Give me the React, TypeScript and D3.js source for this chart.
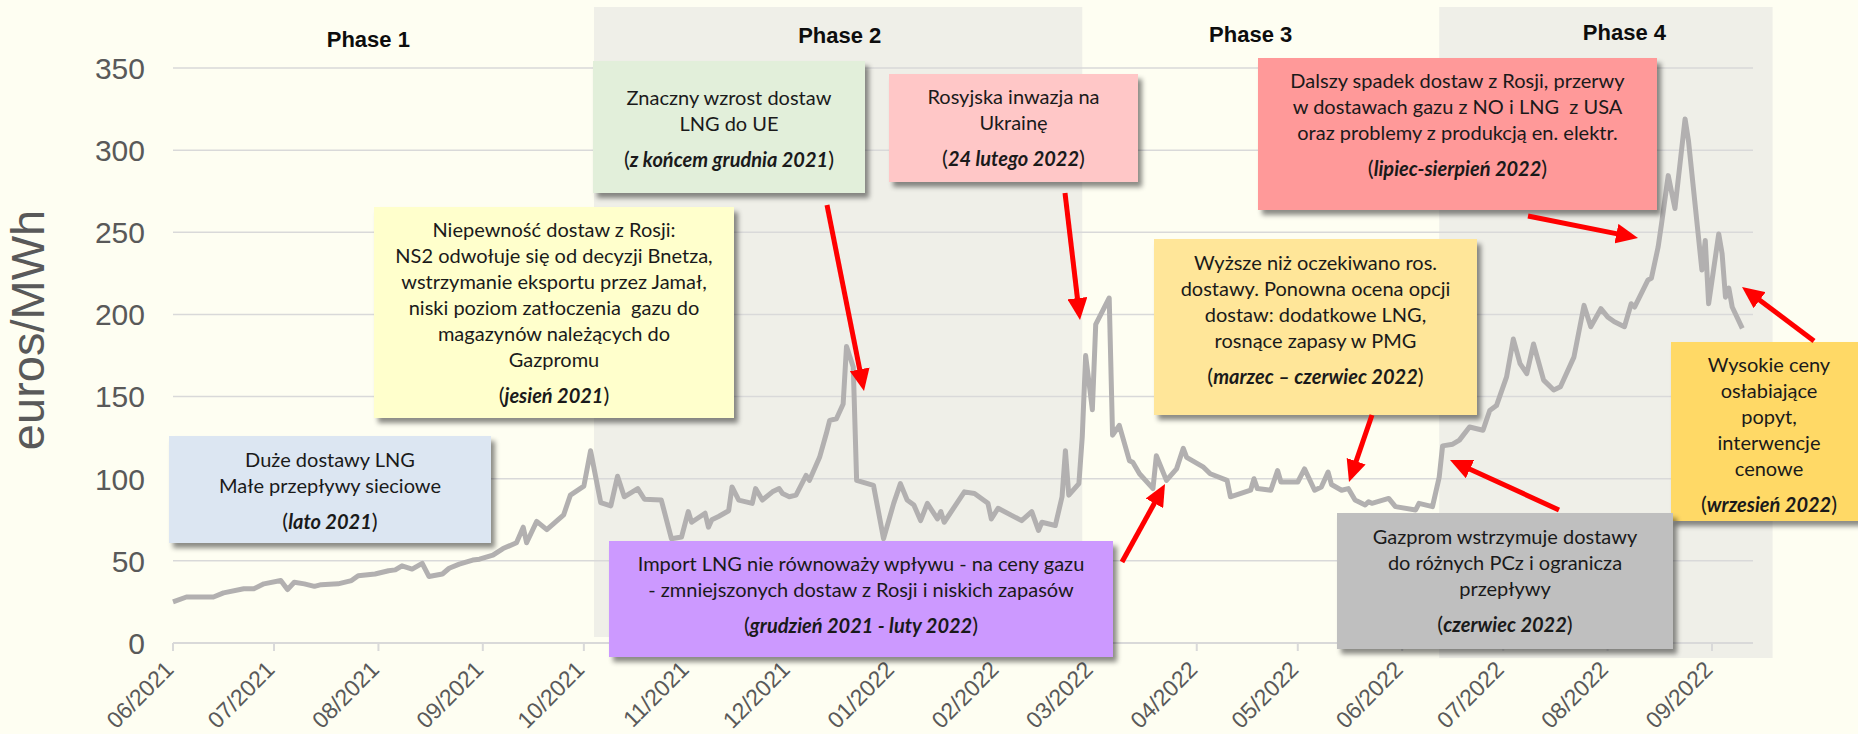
import React, { useEffect, useRef } from 'react'
import * as d3 from 'd3'

const WIDTH = 1858
const HEIGHT = 734

// TTF day-ahead price, euros/MWh
const phase1Prices: [string, number][] = [
    ['2021-06-01', 25], ['2021-06-05', 28], ['2021-06-13', 28], ['2021-06-16', 30.5], ['2021-06-22', 33], ['2021-06-25', 33], ['2021-06-28', 36],
    ['2021-07-03', 38], ['2021-07-05', 32.5], ['2021-07-07', 37], ['2021-07-10', 36], ['2021-07-13', 34.5], ['2021-07-15', 35.5], ['2021-07-20', 36], ['2021-07-24', 38], ['2021-07-26', 41], ['2021-07-31', 42],
    ['2021-08-04', 44], ['2021-08-06', 44.5], ['2021-08-08', 47], ['2021-08-11', 45], ['2021-08-14', 48.5], ['2021-08-16', 40.5], ['2021-08-20', 42], ['2021-08-22', 45.5], ['2021-08-25', 48], ['2021-08-29', 50.5], ['2021-08-31', 51],
    ['2021-09-04', 53.5], ['2021-09-07', 57.5], ['2021-09-11', 61], ['2021-09-13', 70.5], ['2021-09-14', 61], ['2021-09-17', 74], ['2021-09-20', 69], ['2021-09-25', 78], ['2021-09-27', 90], ['2021-10-01', 95.5]
]
const phase2Prices: [string, number][] = [
    ['2021-10-03', 117], ['2021-10-06', 85.5], ['2021-10-09', 83.5], ['2021-10-11', 101.5], ['2021-10-13', 89], ['2021-10-17', 94], ['2021-10-19', 87.5], ['2021-10-24', 87], ['2021-10-27', 63.5], ['2021-10-30', 64.5],
    ['2021-11-01', 80], ['2021-11-02', 73.5], ['2021-11-06', 79], ['2021-11-07', 70.5], ['2021-11-08', 75], ['2021-11-10', 77], ['2021-11-13', 80.5], ['2021-11-14', 95], ['2021-11-16', 87], ['2021-11-20', 85], ['2021-11-21', 94], ['2021-11-23', 87], ['2021-11-26', 92], ['2021-11-28', 94], ['2021-11-29', 91],
    ['2021-12-01', 89], ['2021-12-03', 90], ['2021-12-06', 102], ['2021-12-07', 99], ['2021-12-10', 113], ['2021-12-12', 127.5], ['2021-12-13', 135.5], ['2021-12-15', 136.5], ['2021-12-17', 145.5], ['2021-12-18', 180.5], ['2021-12-20', 168], ['2021-12-21', 99], ['2021-12-26', 96], ['2021-12-29', 63.5],
    ['2022-01-01', 85], ['2022-01-03', 97], ['2022-01-05', 87], ['2022-01-07', 84], ['2022-01-09', 74.5], ['2022-01-11', 85], ['2022-01-14', 75.5], ['2022-01-15', 80], ['2022-01-16', 73.5], ['2022-01-22', 92], ['2022-01-25', 91], ['2022-01-29', 85], ['2022-01-30', 75.5],
    ['2022-02-01', 82], ['2022-02-08', 74.5], ['2022-02-11', 80], ['2022-02-13', 68.5], ['2022-02-14', 73.5], ['2022-02-18', 71.5], ['2022-02-20', 89], ['2022-02-21', 117], ['2022-02-22', 90], ['2022-02-25', 97]
]
const phase3Prices: [string, number][] = [
    ['2022-02-26', 125.5], ['2022-02-27', 175], ['2022-03-01', 142], ['2022-03-02', 194], ['2022-03-06', 210], ['2022-03-07', 126.5], ['2022-03-09', 132.5], ['2022-03-12', 111], ['2022-03-13', 110], ['2022-03-15', 103], ['2022-03-19', 94], ['2022-03-20', 114], ['2022-03-23', 99], ['2022-03-26', 106], ['2022-03-28', 118.5], ['2022-03-29', 113],
    ['2022-04-03', 107], ['2022-04-05', 103], ['2022-04-10', 99], ['2022-04-11', 89], ['2022-04-17', 93], ['2022-04-18', 100], ['2022-04-19', 94], ['2022-04-23', 93], ['2022-04-25', 105], ['2022-04-26', 98],
    ['2022-05-01', 98], ['2022-05-03', 106], ['2022-05-06', 93], ['2022-05-08', 95], ['2022-05-10', 104], ['2022-05-11', 96.5], ['2022-05-14', 93], ['2022-05-16', 94], ['2022-05-18', 87], ['2022-05-21', 84], ['2022-05-22', 86], ['2022-05-23', 85], ['2022-05-28', 88], ['2022-05-30', 83],
    ['2022-06-05', 81], ['2022-06-06', 85], ['2022-06-10', 83]
]
const phase4Prices: [string, number][] = [
    ['2022-06-12', 101], ['2022-06-13', 120], ['2022-06-16', 121], ['2022-06-18', 123.5], ['2022-06-21', 131.5], ['2022-06-25', 129.5], ['2022-06-27', 141.5], ['2022-06-29', 144.5],
    ['2022-07-02', 162], ['2022-07-04', 185], ['2022-07-06', 170], ['2022-07-08', 164], ['2022-07-10', 182], ['2022-07-13', 160], ['2022-07-16', 154], ['2022-07-18', 156], ['2022-07-22', 174], ['2022-07-25', 205.5], ['2022-07-27', 192.5], ['2022-07-30', 203.5],
    ['2022-08-01', 198.5], ['2022-08-03', 195.5], ['2022-08-06', 192.5], ['2022-08-08', 206.5], ['2022-08-09', 204.5], ['2022-08-13', 221], ['2022-08-14', 222], ['2022-08-16', 241], ['2022-08-17', 255], ['2022-08-19', 284.5], ['2022-08-21', 264.5], ['2022-08-24', 319], ['2022-08-25', 306], ['2022-08-29', 227], ['2022-08-30', 245], ['2022-08-31', 206.5],
    ['2022-09-03', 249], ['2022-09-04', 237], ['2022-09-05', 210.5], ['2022-09-06', 216], ['2022-09-07', 204.5], ['2022-09-10', 191.5]
]

const yTicks = [0, 50, 100, 150, 200, 250, 300, 350]
const monthTicks = ['2021-06-01', '2021-07-01', '2021-08-01', '2021-09-01', '2021-10-01', '2021-11-01', '2021-12-01',
    '2022-01-01', '2022-02-01', '2022-03-01', '2022-04-01', '2022-05-01', '2022-06-01', '2022-07-01', '2022-08-01', '2022-09-01']
const phaseNames = ['Phase 1', 'Phase 2', 'Phase 3', 'Phase 4']
const phaseLabelDates = ['2021-07-29', '2021-12-16', '2022-04-17', '2022-08-06']
const shadedPhases = [['2021-10-04', '2022-02-26'], ['2022-06-12', '2022-09-19']]

const noteLines = [
    ['Duże dostawy LNG', 'Małe przepływy sieciowe'],
    ['Niepewność dostaw z Rosji:', 'NS2 odwołuje się od decyzji Bnetza,', 'wstrzymanie eksportu przez Jamał,', 'niski poziom zatłoczenia  gazu do', 'magazynów należących do', 'Gazpromu'],
    ['Znaczny wzrost dostaw', 'LNG do UE'],
    ['Rosyjska inwazja na', 'Ukrainę'],
    ['Wyższe niż oczekiwano ros.', 'dostawy. Ponowna ocena opcji', 'dostaw: dodatkowe LNG,', 'rosnące zapasy w PMG'],
    ['Dalszy spadek dostaw z Rosji, przerwy', 'w dostawach gazu z NO i LNG  z USA', 'oraz problemy z produkcją en. elektr.'],
    ['Wysokie ceny', 'osłabiające', 'popyt,', 'interwencje', 'cenowe'],
    ['Gazprom wstrzymuje dostawy', 'do różnych PCz i ogranicza', 'przepływy'],
    ['Import LNG nie równoważy wpływu - na ceny gazu', '- zmniejszonych dostaw z Rosji i niskich zapasów']
]
const notePeriods = ['lato 2021', 'jesień 2021', 'z końcem grudnia 2021', '24 lutego 2022', 'marzec – czerwiec 2022',
    'lipiec-sierpień 2022', 'wrzesień 2022', 'czerwiec 2022', 'grudzień 2021 - luty 2022']
const noteFills = ['#dce6f2', '#ffffcc', '#e2efda', '#ffc7c7', '#ffe699', '#ff9999', '#ffd966', '#bfbfbf', '#cc99ff']
// x0, y0, x1, y1, first line y
const noteBoxes = [
    [169, 436, 491, 543, 460], [374, 207, 734, 418, 230], [593, 61, 865, 193, 98], [889, 74, 1138, 182, 97],
    [1154, 239, 1477, 415, 263], [1258, 58, 1657, 210, 81], [1671, 342, 1867, 521, 365], [1337, 513, 1673, 649, 537],
    [609, 541, 1113, 657, 564]
]
// from x, from y, tip x, tip y
const arrows = [
    [827, 205, 864, 391], [1065, 193, 1080, 320], [1122, 562, 1165, 484], [1372, 415, 1349, 482],
    [1559, 510, 1450, 460], [1528, 216, 1638, 238], [1814, 341, 1742, 287]
]

function App() {
    const ref = useRef<SVGSVGElement>(null)

    useEffect(() => {
        const svg = d3.select(ref.current)
        svg.selectAll('*').remove()
        const parse = d3.utcParse('%Y-%m-%d')
        const prices = [...phase1Prices, ...phase2Prices, ...phase3Prices, ...phase4Prices]
            .map(d => ({ date: parse(d[0]) as Date, value: d[1] }))

        const x = d3.scaleUtc().domain([parse('2021-06-01') as Date, parse('2022-09-01') as Date]).range([173, 1712])
        const y = d3.scaleLinear().domain([0, 350]).range([643, 68])
        const gridRight = 1753
        const axisFont = "'Liberation Sans', Arial, sans-serif"
        const noteFont = "Lato, 'Open Sans', sans-serif"

        const defs = svg.append('defs')
        const shadow = defs.append('filter').attr('id', 'shadow')
            .attr('x', '-10%').attr('y', '-10%').attr('width', '130%').attr('height', '140%')
        shadow.append('feDropShadow').attr('dx', 4).attr('dy', 5).attr('stdDeviation', 2.5)
            .attr('flood-color', '#000').attr('flood-opacity', 0.45)
        defs.append('marker').attr('id', 'head')
            .attr('markerUnits', 'userSpaceOnUse').attr('markerWidth', 22).attr('markerHeight', 20)
            .attr('refX', 6).attr('refY', 10).attr('orient', 'auto')
            .append('path').attr('d', 'M0,0 L22,10 L0,20 Z').attr('fill', '#ff0000')

        svg.append('rect').attr('width', WIDTH).attr('height', HEIGHT).attr('fill', '#fefef2')

        // shaded phases
        svg.append('g').selectAll('rect').data(shadedPhases).join('rect')
            .attr('x', d => x(parse(d[0]) as Date))
            .attr('width', d => x(parse(d[1]) as Date) - x(parse(d[0]) as Date))
            .attr('y', 7)
            .attr('height', (d, i) => i === 0 ? 630 : 651)
            .attr('fill', '#efefe8')

        // phase titles
        svg.append('g').selectAll('text').data(phaseNames).join('text')
            .attr('x', (d, i) => x(parse(phaseLabelDates[i]) as Date))
            .attr('y', (d, i) => [47, 43, 42, 40][i])
            .attr('text-anchor', 'middle')
            .style('font-family', axisFont).style('font-weight', 'bold').style('font-size', '22px')
            .attr('fill', '#0d0d0d')
            .text(d => d)

        // grid
        svg.append('g').selectAll('line').data(yTicks).join('line')
            .attr('x1', 173).attr('x2', gridRight)
            .attr('y1', d => y(d)).attr('y2', d => y(d))
            .attr('stroke', '#d9d9d9').attr('stroke-width', d => d === 0 ? 2 : 1.5)

        svg.append('g').selectAll('text').data(yTicks).join('text')
            .attr('x', 145).attr('y', d => y(d)).attr('dy', '0.36em')
            .attr('text-anchor', 'end')
            .style('font-family', axisFont).style('font-size', '30px')
            .attr('fill', '#595959')
            .text(d => d)

        // x axis ticks
        const months = monthTicks.map(d => parse(d) as Date)
        svg.append('g').selectAll('line').data(months).join('line')
            .attr('x1', d => x(d)).attr('x2', d => x(d))
            .attr('y1', 643).attr('y2', 651)
            .attr('stroke', '#d9d9d9').attr('stroke-width', 2)
        const fmt = d3.utcFormat('%m/%Y')
        svg.append('g').selectAll('text').data(months).join('text')
            .attr('transform', d => 'translate(' + (x(d) + 2) + ',671) rotate(-45)')
            .attr('text-anchor', 'end')
            .style('font-family', axisFont).style('font-size', '23px')
            .attr('fill', '#595959')
            .text(d => fmt(d))

        svg.append('text')
            .attr('transform', 'translate(44,330) rotate(-90)')
            .attr('text-anchor', 'middle')
            .style('font-family', axisFont).style('font-size', '47px')
            .attr('fill', '#595959')
            .text('euros/MWh')

        // price line
        const line = d3.line<{ date: Date, value: number }>()
            .x(d => x(d.date))
            .y(d => y(d.value))
        svg.append('path')
            .datum(prices)
            .attr('d', line)
            .attr('fill', 'none')
            .attr('stroke', '#b2b0b0')
            .attr('stroke-width', 5)
            .attr('stroke-linejoin', 'round')

        // notes
        noteBoxes.forEach((b, i) => {
            const g = svg.append('g')
            g.append('rect')
                .attr('x', b[0]).attr('y', b[1])
                .attr('width', b[2] - b[0]).attr('height', b[3] - b[1])
                .attr('fill', noteFills[i])
                .attr('filter', 'url(#shadow)')
            const cx = (b[0] + b[2]) / 2
            const lines = noteLines[i]
            lines.forEach((l, j) => {
                g.append('text')
                    .attr('x', cx).attr('y', b[4] + j * 26)
                    .attr('dy', '0.35em')
                    .attr('text-anchor', 'middle')
                    .style('font-family', noteFont).style('font-size', '20px').style('white-space', 'pre')
                    .attr('fill', '#1a1a1a')
                    .text(l)
            })
            const p = g.append('text')
                .attr('x', cx).attr('y', b[4] + (lines.length - 1) * 26 + 36)
                .attr('dy', '0.35em')
                .attr('text-anchor', 'middle')
                .style('font-family', noteFont).style('font-size', '20px')
                .attr('fill', '#1a1a1a')
            p.append('tspan').style('font-size', '22px').text('(')
            p.append('tspan').style('font-weight', 'bold').style('font-style', 'italic').text(notePeriods[i])
            p.append('tspan').style('font-size', '22px').text(')')
        })

        // red arrows
        svg.append('g').selectAll('line').data(arrows).join('line')
            .attr('x1', d => d[0]).attr('y1', d => d[1])
            .attr('x2', d => {
                const len = Math.hypot(d[2] - d[0], d[3] - d[1])
                return d[2] - (d[2] - d[0]) / len * 16
            })
            .attr('y2', d => {
                const len = Math.hypot(d[2] - d[0], d[3] - d[1])
                return d[3] - (d[3] - d[1]) / len * 16
            })
            .attr('stroke', '#ff0000')
            .attr('stroke-width', 5)
            .attr('marker-end', 'url(#head)')
    }, [])

    return (
        <>
            <style>{'body{margin:0}'}</style>
            <svg ref={ref} width={WIDTH} height={HEIGHT} style={{ display: 'block' }} />
        </>
    )
}

export default App
